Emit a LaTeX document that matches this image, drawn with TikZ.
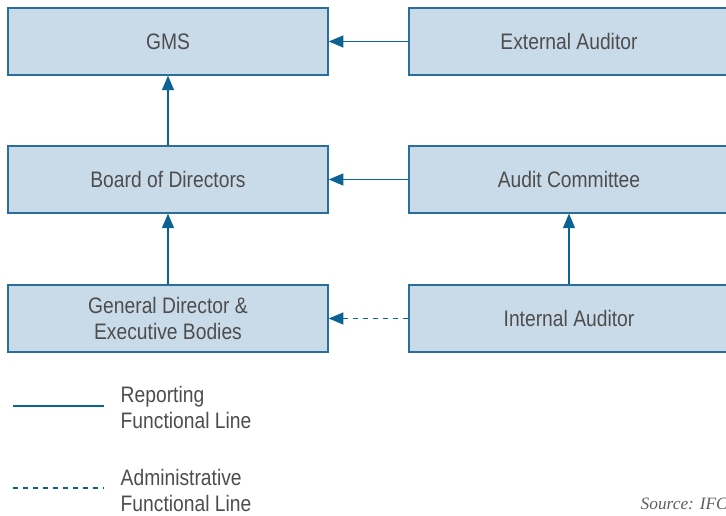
\documentclass[tikz,border=0pt]{standalone}
\usepackage{fontspec}
\setmainfont{Liberation Sans}[FakeStretch=0.86]
\newfontfamily\srcfont{Liberation Serif}
\usetikzlibrary{arrows.meta}
\definecolor{boxfill}{HTML}{C9DBE9}
\definecolor{boxline}{HTML}{2A6E9C}
\definecolor{linkblue}{HTML}{0B6395}
\definecolor{textgray}{HTML}{4D4D4D}
\begin{document}
\begin{tikzpicture}[x=0.75pt,y=-0.75pt,
    orgbox/.style={draw=boxline, fill=boxfill, line width=1.1pt,
      minimum width=240pt, minimum height=50pt, inner sep=0pt,
      text=textgray, align=center, font=\fontsize{16.8}{19.5}\selectfont},
    report/.style={draw=linkblue, line width=1.2pt,
      -{Triangle[length=11pt,width=9pt]}},
    admin/.style={report, dash pattern=on 4pt off 3.5pt},
    legtext/.style={anchor=west, align=left, text=textgray,
      font=\fontsize{16.8}{19.5}\selectfont}]
  \useasboundingbox (0,0) rectangle (726,516);

  % Boxes
  \node[orgbox] (gms) at (168,41.5) {GMS};
  \node[orgbox] (extaud) at (569,41.5) {External Auditor};
  \node[orgbox] (board) at (168,179.5) {Board of Directors};
  \node[orgbox] (auditcom) at (569,179.5) {Audit Committee};
  \node[orgbox] (gendir) at (168,318.5) {General Director \&\\Executive Bodies};
  \node[orgbox] (intaud) at (569,318.5) {Internal Auditor};

  % Reporting lines
  \draw[report] (extaud) -- (gms);
  \draw[report] (board) -- (gms);
  \draw[report] (auditcom) -- (board);
  \draw[report] (gendir) -- (board);
  \draw[report] (intaud) -- (auditcom);
  \draw[admin] (intaud) -- (gendir);

  % Legend
  \coordinate (rep0) at (13,406);
  \coordinate (rep1) at (104,406);
  \draw[linkblue, line width=1.2pt] (rep0) -- (rep1);
  \node[legtext] (reptext) at (116,407) {Reporting\\Functional Line};
  \coordinate (adm0) at (13,488);
  \coordinate (adm1) at (104,488);
  \draw[linkblue, line width=1.2pt, dash pattern=on 4pt off 3.5pt] (adm0) -- (adm1);
  \node[legtext] (admtext) at (116,490) {Administrative\\Functional Line};

  \node[anchor=west, text=textgray!90, font=\srcfont\itshape\fontsize{13}{15}\selectfont] (source) at (636,504) {Source: IFC};
\end{tikzpicture}
\end{document}
